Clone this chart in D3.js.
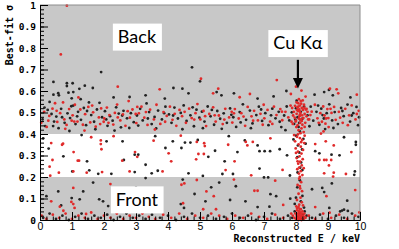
<!DOCTYPE html>
<html>
<head>
<meta charset="utf-8">
<script src="https://cdn.jsdelivr.net/npm/d3@7"></script>
<style>
body { margin: 0; background: #fff; }
.mono { font-family: "DejaVu Sans Mono", monospace; font-weight: bold; }
.tag { font-family: Lato, "Open Sans", sans-serif; font-size: 18px; }
</style>
</head>
<body>
<svg id="chart" width="399" height="249"></svg>
<script>
// sigma regions shaded grey (back / front), white in between
var greyBands = [[0, 0.2], [0.4, 1]];
var xTicks = [0, 1, 2, 3, 4, 5, 6, 7, 8, 9, 10];
var yTicks = [0, 0.1, 0.2, 0.3, 0.4, 0.5, 0.6, 0.7, 0.8, 0.9, 1];

// [E keV, sigma]
var blackUpper = [[0.42,0.642],[0.84,0.636],[1.02,0.636],[0.84,0.623],[1.40,0.625],[1.23,0.61],[1.65,0.614],[1.04,0.595],[0.89,0.592],[0.42,0.583],[0.57,0.59],[0.59,0.58],[2.8,0.572],[1.27,0.562],[0.99,0.566],[1.91,0.688],[4.75,0.71],[5.0,0.645],[4.17,0.614],[4.45,0.611],[4.64,0.589],[5.52,0.595],[5.67,0.58],[6.06,0.589],[8.88,0.595],[9.03,0.605],[8.58,0.583],[9.15,0.58],[3.3,0.58],[7.3,0.575],[2.3,0.57],[6.8,0.565],[9.7,0.57],[3.9,0.565],[7.7,0.6]];
var redUpper = [[0.84,0.997],[0.65,0.77],[2.43,0.62],[5.03,0.657],[3.74,0.608],[5.57,0.611],[5.41,0.589],[6.24,0.571],[6.56,0.586],[7.4,0.651],[8.17,0.602],[7.84,0.586],[8.3,0.574],[9.27,0.608],[9.32,0.589],[9.9,0.583],[9.06,0.611],[8.0,0.62],[1.2,0.57]];
var blackBand = [[0.08,0.468],[0.16,0.437],[0.24,0.512],[0.3,0.549],[0.36,0.493],[0.44,0.458],[0.51,0.481],[0.58,0.427],[0.66,0.517],[0.77,0.452],[0.86,0.496],[0.94,0.474],[0.98,0.529],
  [1.04,0.532],[1.11,0.446],[1.19,0.503],[1.28,0.466],[1.37,0.521],[1.44,0.441],[1.53,0.547],[1.6,0.488],[1.69,0.457],[1.78,0.514],[1.86,0.545],[1.94,0.478],
  [2.03,0.506],[2.11,0.438],[2.19,0.483],[2.27,0.462],[2.38,0.524],[2.46,0.495],[2.53,0.431],[2.61,0.508],[2.72,0.473],[2.84,0.497],[2.93,0.455],
  [3.03,0.486],[3.13,0.517],[3.21,0.463],[3.33,0.542],[3.41,0.502],[3.49,0.446],[3.58,0.479],[3.69,0.509],[3.81,0.468],[3.92,0.527],
  [4.03,0.491],[4.11,0.452],[4.2,0.523],[4.31,0.472],[4.4,0.498],[4.49,0.533],[4.58,0.461],[4.7,0.487],[4.81,0.436],[4.89,0.513],[4.98,0.476],
  [5.06,0.504],[5.14,0.458],[5.24,0.528],[5.33,0.482],[5.44,0.443],[5.54,0.507],[5.63,0.471],[5.74,0.496],[5.84,0.452],[5.94,0.519],
  [6.04,0.478],[6.13,0.433],[6.24,0.502],[6.34,0.538],[6.44,0.466],[6.56,0.509],[6.64,0.449],[6.76,0.488],[6.84,0.527],[6.94,0.461],
  [7.04,0.497],[7.14,0.441],[7.26,0.518],[7.36,0.473],[7.46,0.503],[7.54,0.432],[7.63,0.486],[7.71,0.528],[7.79,0.463],[7.87,0.501],[7.94,0.447],
  [8.36,0.487],[8.46,0.527],[8.54,0.462],[8.64,0.503],[8.73,0.443],[8.79,0.518],[8.87,0.472],[8.91,0.423],[8.96,0.497],
  [9.04,0.538],[9.13,0.463],[9.21,0.502],[9.31,0.446],[9.41,0.521],[9.49,0.483],[9.61,0.537],[9.69,0.458],[9.79,0.497],[9.89,0.526],[9.94,0.441]];
var blackBand2 = [[0.14,0.523],[0.41,0.437],[0.69,0.478],[0.92,0.414],[1.16,0.482],[1.47,0.507],[1.73,0.422],[2.07,0.468],[2.33,0.416],[2.57,0.486],[2.79,0.428],[3.07,0.439],[3.37,0.472],[3.63,0.426],[3.88,0.497],[4.16,0.486],[4.45,0.422],[4.77,0.524],[5.09,0.427],[5.37,0.512],[5.68,0.424],[5.98,0.489],[6.27,0.454],[6.59,0.427],[6.91,0.514],[7.22,0.487],[7.49,0.457],[7.67,0.418],[8.42,0.436],[8.69,0.532],[8.83,0.488],[9.17,0.428],[9.45,0.507],[9.74,0.486],[9.97,0.478]];
var redBand = [[0.04,0.452],[0.13,0.503],[0.21,0.433],[0.29,0.484],[0.39,0.518],[0.47,0.543],[0.54,0.456],[0.63,0.497],[0.72,0.547],[0.76,0.468],[0.83,0.442],[0.91,0.516],[0.99,0.462],
  [1.02,0.487],[1.09,0.536],[1.17,0.458],[1.26,0.514],[1.34,0.443],[1.41,0.492],[1.51,0.526],[1.57,0.454],[1.66,0.501],[1.74,0.434],[1.84,0.477],[1.91,0.519],[1.99,0.457],
  [2.01,0.472],[2.09,0.523],[2.17,0.488],[2.29,0.444],[2.34,0.498],[2.41,0.537],[2.51,0.463],[2.59,0.491],[2.67,0.438],[2.77,0.553],[2.81,0.476],[2.89,0.514],[2.99,0.493],
  [3.01,0.451],[3.09,0.496],[3.17,0.527],[3.26,0.476],[3.36,0.442],[3.44,0.513],[3.56,0.468],[3.64,0.536],[3.76,0.447],[3.86,0.502],[3.96,0.484],
  [4.06,0.527],[4.14,0.466],[4.26,0.438],[4.36,0.512],[4.44,0.483],[4.56,0.452],[4.66,0.518],[4.74,0.474],[4.86,0.497],[4.92,0.539],
  [5.01,0.468],[5.11,0.507],[5.19,0.437],[5.29,0.493],[5.41,0.524],[5.49,0.458],[5.59,0.486],[5.71,0.446],[5.79,0.517],[5.91,0.477],[5.99,0.503],
  [6.01,0.453],[6.09,0.516],[6.21,0.472],[6.29,0.497],[6.41,0.438],[6.49,0.526],[6.61,0.482],[6.69,0.508],[6.81,0.463],[6.89,0.494],[6.99,0.536],
  [7.01,0.473],[7.11,0.512],[7.19,0.458],[7.31,0.527],[7.39,0.488],[7.51,0.516],[7.57,0.464],[7.67,0.503],[7.76,0.477],[7.83,0.532],[7.91,0.486],
  [8.33,0.517],[8.41,0.468],[8.49,0.504],[8.59,0.536],[8.67,0.473],[8.76,0.497],[8.81,0.457],[8.85,0.528],[8.89,0.486],[8.92,0.448],[8.98,0.516],
  [9.01,0.474],[9.11,0.498],[9.19,0.526],[9.24,0.466],[9.34,0.503],[9.46,0.452],[9.54,0.517],[9.66,0.487],[9.74,0.533],[9.86,0.468],[9.96,0.508]];
var redBand2 = [[0.26,0.462],[0.52,0.508],[0.79,0.424],[1.07,0.458],[1.39,0.416],[1.63,0.532],[1.88,0.446],[2.14,0.452],[2.43,0.477],[2.74,0.506],[3.04,0.526],[3.31,0.502],[3.59,0.421],[3.91,0.457],[4.21,0.494],[4.52,0.503],[4.82,0.467],[5.16,0.483],[5.46,0.487],[5.76,0.467],[6.06,0.496],[6.36,0.481],[6.66,0.462],[6.96,0.443],[7.26,0.447],[7.56,0.504],[7.86,0.457],[8.45,0.488],[8.71,0.452],[8.94,0.472],[9.08,0.517],[9.38,0.476],[9.62,0.441],[9.9,0.493],[8.86,0.412],[9.02,0.432],[8.78,0.402]];
var blackMid = [[0.27,0.332],[0.73,0.296],[1.47,0.273],[2.08,0.366],[2.58,0.366],[1.01,0.226],[1.54,0.231],[1.82,0.215],[2.23,0.215],[2.62,0.279],[2.96,0.304],[3.07,0.304],[3.3,0.257],[2.96,0.223],[4.15,0.366],[4.7,0.36],[4.53,0.36],[3.92,0.335],[4.42,0.335],[4.93,0.372],[5.26,0.294],[5.47,0.322],[5.77,0.273],[6.17,0.316],[6.8,0.347],[3.49,0.217],[3.68,0.229],[4.64,0.217],[5.09,0.205],[5.7,0.214],[6.03,0.214],[6.86,0.32],[7.02,0.32],[7.19,0.32],[7.49,0.329],[7.72,0.301],[8.6,0.32],[8.73,0.31],[9.11,0.304],[9.36,0.301],[9.87,0.363],[9.87,0.35],[9.82,0.21],[9.84,0.226],[7.0,0.198],[7.13,0.198],[7.81,0.207],[6.86,0.239],[0.1,0.38],[1.3,0.395],[3.6,0.39],[5.9,0.39],[9.5,0.385],[6.4,0.37]];
var redMid = [[0.35,0.358],[0.69,0.35],[0.72,0.355],[1.05,0.316],[0.39,0.279],[1.22,0.276],[1.18,0.276],[1.9,0.37],[1.9,0.353],[1.92,0.329],[2.57,0.276],[0.3,0.248],[0.59,0.22],[1.04,0.226],[1.46,0.22],[1.94,0.223],[0.32,0.206],[3.04,0.294],[2.8,0.226],[2.97,0.316],[3.55,0.369],[4.9,0.363],[5.13,0.357],[5.15,0.344],[5.88,0.35],[6.43,0.363],[6.48,0.347],[6.65,0.363],[4.02,0.31],[4.95,0.307],[5.12,0.307],[4.88,0.282],[4.1,0.273],[6.08,0.273],[5.8,0.232],[3.83,0.226],[6.6,0.208],[7.58,0.233],[8.6,0.353],[8.93,0.366],[9.18,0.347],[9.73,0.316],[8.88,0.279],[8.95,0.279],[9.1,0.279],[8.73,0.279],[9.56,0.214],[9.18,0.22],[9.16,0.202],[8.88,0.217],[9.03,0.254],[2.3,0.39],[1.6,0.385],[4.4,0.392],[7.2,0.38]];
var blackLow = [[3.3,0.195],[1.66,0.174],[1.35,0.133],[0.57,0.133],[0.2,0.111],[0.99,0.102],[1.85,0.096],[1.97,0.087],[1.24,0.096],[2.35,0.087],[0.66,0.068],[2.13,0.065],[4.46,0.188],[5.6,0.174],[5.35,0.152],[6.12,0.157],[4.83,0.121],[5.17,0.087],[5.94,0.093],[6.42,0.087],[4.4,0.074],[4.5,0.056],[7.2,0.12],[9.12,0.17],[8.5,0.143],[8.82,0.149],[8.88,0.13],[7.82,0.099],[7.38,0.111],[7.17,0.062],[9.04,0.056],[9.44,0.044],[3.0,0.15],[2.7,0.12],[9.6,0.09],[6.8,0.06],[9.38,0.04],[9.5,0.048],[9.62,0.042]];
var redLow = [[2.2,0.167],[1.04,0.149],[0.35,0.087],[0.98,0.084],[1.04,0.074],[0.62,0.062],[0.73,0.043],[1.08,0.056],[1.44,0.028],[4.42,0.164],[4.51,0.17],[4.9,0.186],[5.2,0.133],[5.43,0.111],[6.06,0.188],[6.7,0.136],[5.5,0.05],[5.1,0.05],[4.47,0.078],[7.35,0.183],[6.8,0.136],[9.85,0.139],[8.95,0.111],[9.05,0.034],[2.9,0.06],[3.6,0.1],[7.6,0.07],[8.6,0.06]];
var blackBottom = [[0.1,0.01],[0.3,0.03],[0.5,0.005],[0.7,0.02],[0.9,0.0],[1.1,0.015],[1.3,0.03],[1.5,0.005],[1.7,0.02],[1.9,0.01],[2.1,0.025],[2.3,0.0],[2.5,0.015],[2.7,0.03],[2.9,0.01],[3.1,0.02],[3.3,0.005],[3.5,0.025],[3.75,0.01],[4.0,0.02],[4.25,0.0],[4.5,0.015],[4.75,0.03],[5.0,0.01],[5.25,0.02],[5.5,0.005],[5.75,0.015],[6.0,0.03],[6.25,0.01],[6.5,0.02],[6.75,0.0],[7.0,0.015],[7.25,0.03],[7.5,0.005],[7.75,0.02],[8.5,0.01],[8.75,0.025],[9.0,0.005],[9.25,0.02],[9.5,0.01],[9.75,0.03],[9.95,0.015]];
var redBottom = [[0.05,0.02],[0.2,0.005],[0.4,0.025],[0.6,0.01],[0.8,0.03],[1.0,0.005],[1.2,0.02],[1.4,0.01],[1.6,0.035],[1.8,0.005],[2.0,0.02],[2.2,0.01],[2.4,0.03],[2.6,0.005],[2.8,0.02],[3.0,0.01],[3.2,0.03],[3.4,0.015],[3.6,0.005],[3.85,0.025],[4.1,0.01],[4.35,0.03],[4.6,0.005],[4.85,0.02],[5.1,0.01],[5.35,0.03],[5.6,0.02],[5.85,0.005],[6.1,0.02],[6.35,0.01],[6.6,0.03],[6.85,0.015],[7.1,0.005],[7.35,0.025],[7.6,0.01],[7.85,0.03],[8.4,0.02],[8.6,0.005],[8.85,0.03],[9.1,0.01],[9.35,0.025],[9.6,0.005],[9.85,0.02],[9.98,0.035]];
// Cu K-alpha line around 8.1 keV
var blackCu = [[8.0,0.52],[8.05,0.478],[8.1,0.452],[8.15,0.503],[8.08,0.433],[8.2,0.471],[8.02,0.555],[8.25,0.528],[8.12,0.412],[7.98,0.467],
  [8.0,0.392],[8.23,0.377],[8.06,0.347],[8.19,0.328],[8.1,0.314],[8.04,0.292],[8.16,0.268],[8.13,0.243],[8.05,0.221],[8.2,0.232],[7.92,0.375],[8.3,0.355],
  [8.12,0.185],[8.04,0.152],[8.2,0.112],[8.0,0.104],[8.15,0.087],[8.25,0.058],[7.96,0.075],
  [7.96,0.04],[8.04,0.015],[8.1,0.03],[8.15,0.005],[8.21,0.025],[8.27,0.04],[7.88,0.01],[8.33,0.02]];
var redCu = [[7.93,0.503],[7.97,0.531],[8.0,0.462],[8.02,0.494],[8.04,0.524],[8.05,0.441],[8.06,0.507],[8.07,0.543],[8.09,0.472],[8.1,0.514],[8.11,0.483],[8.12,0.532],[8.13,0.452],[8.14,0.498],[8.15,0.553],[8.16,0.468],[8.18,0.521],[8.19,0.487],[8.2,0.443],[8.22,0.512],[8.23,0.474],[8.25,0.536],[8.27,0.493],[8.29,0.452],[8.31,0.514],[8.33,0.482],[7.96,0.476],[8.01,0.432],[8.08,0.418],[8.17,0.426],[8.24,0.409],[8.06,0.398],[8.14,0.404],[7.99,0.458],[8.16,0.541],[8.09,0.562],[8.21,0.556],[8.03,0.512],[8.12,0.489],[8.18,0.461],[7.9,0.447],[8.36,0.503],[8.27,0.433],[8.11,0.506],[8.07,0.527],[7.88,0.521],[8.38,0.468],[8.02,0.547],[8.26,0.522],[8.13,0.466],
  [8.03,0.387],[8.19,0.372],[7.97,0.366],[8.12,0.381],[8.26,0.358],[8.08,0.352],[8.15,0.341],[7.99,0.333],[8.22,0.326],[8.06,0.318],[8.17,0.309],[8.11,0.296],[8.02,0.288],[8.21,0.283],[8.13,0.271],[8.07,0.262],[8.18,0.254],[8.1,0.244],[8.04,0.236],[8.15,0.227],[8.09,0.216],[8.2,0.209],[8.12,0.201],[8.0,0.312],[8.27,0.392],[7.94,0.395],[8.16,0.362],[8.05,0.273],[8.24,0.241],
  [8.1,0.192],[8.16,0.176],[8.05,0.163],[8.13,0.147],[8.19,0.134],[8.08,0.122],[8.14,0.104],[8.03,0.093],[8.18,0.082],[8.1,0.071],[8.01,0.063],[8.22,0.068],[8.12,0.158],
  [7.95,0.01],[7.98,0.03],[8.0,0.005],[8.02,0.02],[8.03,0.045],[8.05,0.01],[8.06,0.03],[8.07,0.0],[8.08,0.02],[8.09,0.04],[8.1,0.01],[8.11,0.025],[8.12,0.005],[8.13,0.035],[8.14,0.015],[8.15,0.05],[8.16,0.02],[8.17,0.0],[8.18,0.03],[8.19,0.012],[8.2,0.04],[8.22,0.02],[8.24,0.005],[8.26,0.03],[8.28,0.015],[8.04,0.055],[8.12,0.05],[8.3,0.01],[7.9,0.02],[8.08,0.06]];

var blackPoints = blackUpper.concat(blackBand, blackBand2, blackMid, blackLow, blackBottom, blackCu);
var redPoints = redUpper.concat(redBand, redBand2, redMid, redLow, redBottom, redCu);

var svg = d3.select("#chart");
var x = d3.scaleLinear().domain([0, 10]).range([40, 360]);
var y = d3.scaleLinear().domain([0, 1]).range([220, 5]);

svg.selectAll("rect.band")
    .data(greyBands)
    .enter().append("rect")
    .attr("class", "band")
    .attr("x", x(0))
    .attr("width", x(10) - x(0))
    .attr("y", function(d) { return y(d[1]); })
    .attr("height", function(d) { return y(d[0]) - y(d[1]); })
    .attr("fill", "#c8c8c8");

function drawPoints(pts, colour) {
    svg.append("g").selectAll("circle")
        .data(pts)
        .enter().append("circle")
        .attr("cx", function(d) { return x(d[0]); })
        .attr("cy", function(d) { return y(d[1]); })
        .attr("r", 1.4)
        .attr("fill", colour);
}
drawPoints(blackPoints, "#222");
drawPoints(redPoints, "#e02a2a");

// frame: grey top/right, black axes
svg.append("path")
    .attr("d", "M" + x(0) + "," + y(1) + "H" + x(10) + "V" + y(0))
    .attr("fill", "none").attr("stroke", "#8c8c8c").attr("stroke-width", 1);

// minor ticks
var yMinor = d3.range(0, 1.001, 0.02);
var xMinor = d3.range(0, 10.001, 0.2);
svg.append("g").attr("transform", "translate(" + x(0) + ",0)")
    .call(d3.axisLeft(y).tickValues(yMinor).tickSize(-4).tickFormat(""))
    .call(function(g) { g.select(".domain").remove(); });
svg.append("g").attr("transform", "translate(0," + y(0) + ")")
    .call(d3.axisBottom(x).tickValues(xMinor).tickSize(-3.5).tickFormat(""))
    .call(function(g) { g.select(".domain").remove(); });

var yAxis = svg.append("g").attr("transform", "translate(" + x(0) + ",0)")
    .call(d3.axisLeft(y).tickValues(yTicks).tickSize(-8).tickPadding(4)
        .tickFormat(function(d) { return (d === 0 || d === 1) ? d : d.toFixed(1); }));
yAxis.selectAll("text").attr("class", "mono").style("font-size", "9.5px").attr("fill", "#000");

var xAxis = svg.append("g").attr("transform", "translate(0," + y(0) + ")")
    .call(d3.axisBottom(x).tickValues(xTicks).tickSize(-8).tickPadding(3).tickFormat(d3.format("d")));
xAxis.selectAll("text").style("font-family", "'Liberation Sans', Arial, sans-serif").style("font-size", "10.5px").attr("fill", "#000");

svg.selectAll(".domain").attr("stroke", "#000");

// axis titles
svg.append("text")
    .attr("class", "mono")
    .attr("x", x(10)).attr("y", 242)
    .attr("text-anchor", "end")
    .style("font-size", "10px")
    .text("Reconstructed E / keV");
svg.append("text")
    .attr("class", "mono")
    .attr("transform", "translate(13," + y(1) + ") rotate(-90)")
    .attr("text-anchor", "end")
    .style("font-size", "10px")
    .text("Best-fit σ");

// labels with white boxes
function tag(e, s, label) {
    var g = svg.append("g");
    var t = g.append("text")
        .attr("class", "tag")
        .attr("x", x(e)).attr("y", y(s))
        .attr("text-anchor", "middle")
        .attr("dy", "0.35em")
        .text(label);
    var b = t.node().getBBox();
    g.insert("rect", "text")
        .attr("x", b.x - 5).attr("y", y(s) - 13)
        .attr("width", b.width + 10).attr("height", 27)
        .attr("fill", "#fff");
}
tag(3.03, 0.853, "Back");
tag(3.03, 0.096, "Front");
tag(8.06, 0.823, "Cu Kα");

// arrow to the Cu K-alpha line
svg.append("line")
    .attr("x1", x(8.06)).attr("x2", x(8.06))
    .attr("y1", y(0.745)).attr("y2", y(0.655))
    .attr("stroke", "#000").attr("stroke-width", 2.2);
svg.append("path")
    .attr("d", "M" + (x(8.06) - 5) + "," + y(0.66) + "L" + (x(8.06) + 5) + "," + y(0.66) + "L" + x(8.06) + "," + y(0.612) + "Z")
    .attr("fill", "#000");
</script>
</body>
</html>
